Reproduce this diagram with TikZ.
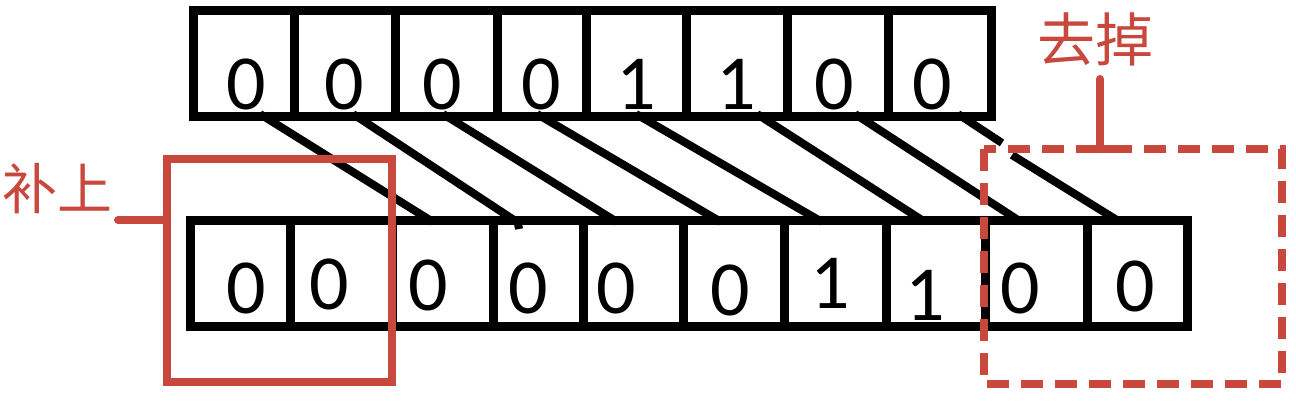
\documentclass[tikz,border=0pt]{standalone}
\usepackage{fontspec}
\setmainfont{Carlito}
\newfontfamily\cjkfont{Noto Sans CJK SC}
\definecolor{redmark}{RGB}{201,72,62}
\begin{document}
\begin{tikzpicture}[x=1pt,y=-1pt,
  cellline/.style={draw=black, line width=9pt},
  shiftline/.style={draw=black, line width=8pt},
  digit/.style={inner sep=0pt, font=\fontsize{78}{80}\selectfont},
  redbox/.style={draw=redmark, line width=8pt},
  reddash/.style={draw=redmark, line width=8pt, dash pattern=on 22pt off 12pt},
  redlabel/.style={inner sep=0pt, text=redmark, font=\cjkfont\fontsize{55}{58}\selectfont}]
\useasboundingbox (0,0) rectangle (1296,402);

% shift lines (drawn first, boxes cover their ends)
\foreach \s/\e in {260/433, 353/517, 443/617, 537/721, 636/822, 757/925, 855/1021}
  \draw[shiftline] (\s,114) -- (\e,222);
\draw[shiftline] (958,114) -- (1002,143);
\draw[shiftline] (1012,155) -- (1120,222);
\draw[shiftline] (517,218) -- (519,229);

% top register
\draw[cellline] (193,10.5) rectangle (991,116.5);
\foreach \x in {294,395,497,586,686,787,888}
  \draw[cellline] (\x,10.5) -- (\x,116.5);
% bottom register
\draw[cellline] (190,220) rectangle (1187,326);
\foreach \x in {290,392,493,583,683,784,886,985,1087}
  \draw[cellline] (\x,220) -- (\x,326);

% top digits
\node[digit] (t1) at (246,84) {0};
\node[digit] (t2) at (344,84) {0};
\node[digit] (t3) at (442,84) {0};
\node[digit] (t4) at (541,84) {0};
\node[digit] (t5) at (636,84) {1};
\node[digit] (t6) at (736,84) {1};
\node[digit] (t7) at (834,84) {0};
\node[digit] (t8) at (932,84) {0};
% bottom digits
\node[digit] (b1) at (246,288) {0};
\node[digit] (b2) at (329,284) {0};
\node[digit] (b3) at (428,285) {0};
\node[digit] (b4) at (528,288) {0};
\node[digit] (b5) at (616,288) {0};
\node[digit] (b6) at (730,290) {0};
\node[digit] (b7) at (830,283) {1};
\node[digit] (b8) at (925,295) {1};
\node[digit] (b9) at (1020,288) {0};
\node[digit] (b10) at (1135,286) {0};

% padded region
\node[redlabel] (add) at (57,189) {补上};
\coordinate (addend) at (118,220);
\draw[redbox] (167,159) rectangle (392,382);
\coordinate (addbox) at (167,220);
\draw[redbox, line cap=round] (addend) -- (addbox);

% dropped region
\node[redlabel, font=\cjkfont\fontsize{58}{60}\selectfont] (drop) at (1095,39) {去掉};
\coordinate (droptop) at (1100,79);
\coordinate (dropbox) at (1100,149);
\draw[reddash] (984,149) rectangle (1282,384);
\draw[redbox] (1086,149) -- (1118,149);
\draw[redbox, line cap=round] (droptop) -- (dropbox);
\end{tikzpicture}
\end{document}
